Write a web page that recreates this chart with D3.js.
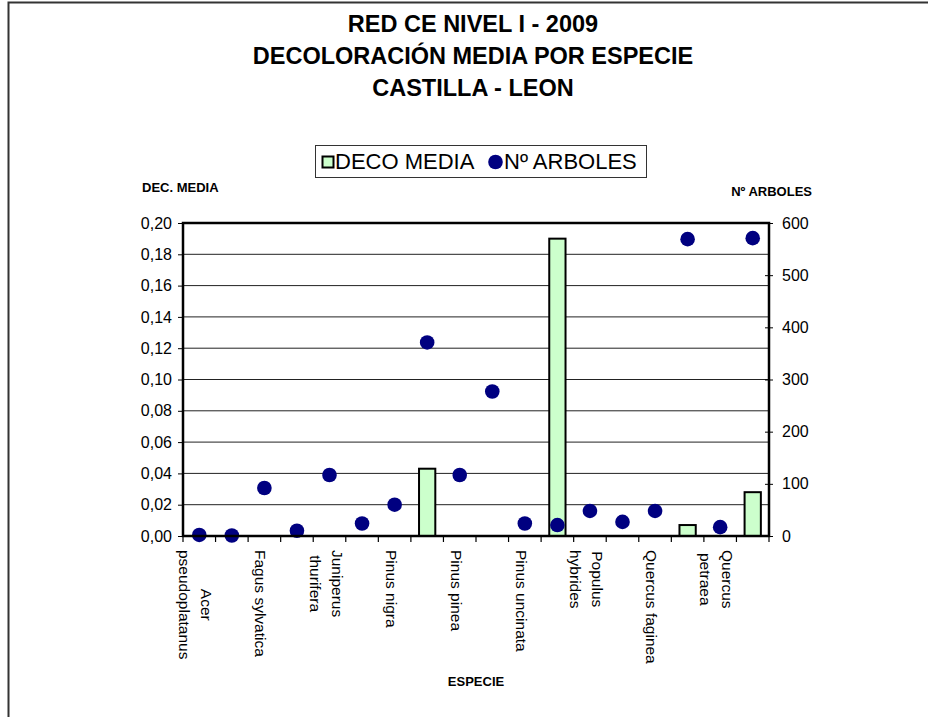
<!DOCTYPE html>
<html>
<head>
<meta charset="utf-8">
<script src="https://cdn.jsdelivr.net/npm/d3@7"></script>
<style>
  body { margin: 0; background: #fff; }
  svg { font-family: "Liberation Sans", Arial, sans-serif; }
</style>
</head>
<body>
<svg id="chart" width="928" height="717"></svg>
<script>
// especies (las de indice impar no se rotulan en el original)
var especies = ["Acer\npseudoplatanus", "Castanea sativa", "Fagus sylvatica", "Fraxinus angustifolia",
    "Juniperus\nthurifera", "Pinus halepensis", "Pinus nigra", "Pinus pinaster", "Pinus pinea",
    "Pinus sylvestris", "Pinus uncinata", "Populus alba", "Populus\nhybrides", "Populus nigra",
    "Quercus faginea", "Quercus ilex", "Quercus\npetraea", "Quercus pyrenaica"];
// DECO MEDIA (eje izq.), 0 = sin barra
var decoMedia = [0, 0, 0, 0, 0, 0, 0, 0.043, 0, 0, 0, 0.190, 0, 0, 0, 0.007, 0, 0.028];
// Nº ARBOLES (eje dcho.)
var numArboles = [2, 1, 92, 10, 117, 24, 60, 371, 117, 277, 24, 21, 48, 27, 48, 569, 17, 571];
var titulo = ["RED CE NIVEL I - 2009", "DECOLORACIÓN MEDIA POR ESPECIE", "CASTILLA - LEON"];
var ticksIzq = [0, 0.02, 0.04, 0.06, 0.08, 0.10, 0.12, 0.14, 0.16, 0.18, 0.20];
var ticksDcha = [0, 100, 200, 300, 400, 500, 600];

var svg = d3.select("#chart");
var pLeft = 183, pRight = 769, pTop = 223, pBottom = 536;

// marco exterior
svg.append("path")
    .attr("d", "M8.5,717V2.5H928")
    .attr("fill", "none")
    .attr("stroke", "#333")
    .attr("stroke-width", 2);

svg.append("g").selectAll("text")
    .data(titulo)
    .enter().append("text")
    .attr("x", 473)
    .attr("y", function(d, i) { return 32 + i * 32; })
    .attr("text-anchor", "middle")
    .attr("font-size", 23.5)
    .attr("font-weight", "bold")
    .text(function(d) { return d; });

var x = d3.scaleBand()
    .domain(d3.range(especies.length))
    .range([pLeft, pRight]);
var yL = d3.scaleLinear().domain([0, 0.2]).range([pBottom, pTop]);
var yR = d3.scaleLinear().domain([0, 600]).range([pBottom, pTop]);

// lineas de division
svg.append("g").selectAll("line")
    .data(ticksIzq.slice(1, -1))
    .enter().append("line")
    .attr("x1", pLeft).attr("x2", pRight)
    .attr("y1", function(d) { return yL(d); })
    .attr("y2", function(d) { return yL(d); })
    .attr("stroke", "#222")
    .attr("stroke-width", 1);

// barras
var bw = x.bandwidth() * 0.5;
svg.append("g").selectAll("rect")
    .data(decoMedia.map(function(v, i) { return {i: i, v: v}; }).filter(function(d) { return d.v > 0; }))
    .enter().append("rect")
    .attr("x", function(d) { return x(d.i) + (x.bandwidth() - bw) / 2; })
    .attr("y", function(d) { return yL(d.v); })
    .attr("width", bw)
    .attr("height", function(d) { return yL(0) - yL(d.v); })
    .attr("fill", "#ccffcc")
    .attr("stroke", "#000")
    .attr("stroke-width", 2);

// puntos
svg.append("g").selectAll("circle")
    .data(numArboles)
    .enter().append("circle")
    .attr("cx", function(d, i) { return x(i) + x.bandwidth() / 2; })
    .attr("cy", function(d) { return yR(d); })
    .attr("r", 7.3)
    .attr("fill", "#000080");

// borde del area de trazado
svg.append("rect")
    .attr("x", pLeft).attr("y", pTop)
    .attr("width", pRight - pLeft).attr("height", pBottom - pTop)
    .attr("fill", "none")
    .attr("stroke", "#000")
    .attr("stroke-width", 2.5);

// eje izquierdo
var axL = svg.append("g")
    .attr("transform", "translate(" + pLeft + ",0)")
    .call(d3.axisLeft(yL).tickValues(ticksIzq).tickSize(5).tickPadding(6)
        .tickFormat(function(d) { return d3.format(".2f")(d).replace(".", ","); }));
axL.select(".domain").remove();
axL.selectAll("text").attr("font-size", 16).attr("font-family", null).attr("fill", "#000");
axL.selectAll("line").attr("stroke", "#000");

// eje derecho
var axR = svg.append("g")
    .attr("transform", "translate(" + pRight + ",0)")
    .call(d3.axisRight(yR).tickValues(ticksDcha).tickSize(4).tickPadding(9));
axR.select(".domain").remove();
axR.selectAll("line").attr("x1", -4).attr("stroke", "#000");
axR.selectAll("text").attr("font-size", 16).attr("font-family", null).attr("fill", "#000");

// marcas del eje de categorias
var bordes = especies.map(function(d, i) { return x(i); }).concat([pRight]);
svg.append("g").selectAll("line")
    .data(bordes)
    .enter().append("line")
    .attr("x1", function(d) { return d; }).attr("x2", function(d) { return d; })
    .attr("y1", pBottom).attr("y2", pBottom + 6)
    .attr("stroke", "#000")
    .attr("stroke-width", 1.2);

// rotulos de categoria (uno de cada dos)
var rot = svg.append("g").selectAll("g")
    .data(especies.map(function(d, i) { return {i: i, lines: d.split("\n")}; }).filter(function(d) { return d.i % 2 == 0; }))
    .enter().append("g")
    .attr("transform", function(d) {
        return "translate(" + (x(d.i) + x.bandwidth() / 2 - 3.5) + "," + (pBottom + 14) + ") rotate(90)";
    });
rot.each(function(d) {
    var g = d3.select(this);
    var n = d.lines.length;
    var ts = d.lines.map(function(l, k) {
        return g.append("text")
            .attr("y", (k - (n - 1) / 2) * 22)
            .attr("dominant-baseline", "central")
            .attr("text-anchor", "middle")
            .attr("font-size", 15.5)
            .text(l);
    });
    var w = d3.max(ts, function(t) { return t.node().getComputedTextLength(); });
    ts.forEach(function(t) { t.attr("x", w / 2); });
});

// titulos de ejes
svg.append("text").attr("x", 142).attr("y", 192)
    .attr("font-size", 13).attr("font-weight", "bold").text("DEC. MEDIA");
svg.append("text").attr("x", 812).attr("y", 196).attr("text-anchor", "end")
    .attr("font-size", 13).attr("font-weight", "bold").text("Nº ARBOLES");
svg.append("text").attr("x", 476).attr("y", 686).attr("text-anchor", "middle")
    .attr("font-size", 13).attr("font-weight", "bold").text("ESPECIE");

// leyenda
var leg = svg.append("g");
leg.append("rect").attr("x", 315.5).attr("y", 145.5).attr("width", 331).attr("height", 32)
    .attr("fill", "#fff").attr("stroke", "#333").attr("stroke-width", 1);
leg.append("rect").attr("x", 322.5).attr("y", 156.5).attr("width", 11).attr("height", 11)
    .attr("fill", "#ccffcc").attr("stroke", "#000").attr("stroke-width", 2);
leg.append("text").attr("x", 335).attr("y", 169).attr("font-size", 22).text("DECO MEDIA");
leg.append("circle").attr("cx", 495.5).attr("cy", 162).attr("r", 7.3).attr("fill", "#000080");
leg.append("text").attr("x", 504).attr("y", 169).attr("font-size", 22).text("Nº ARBOLES");
</script>
</body>
</html>
